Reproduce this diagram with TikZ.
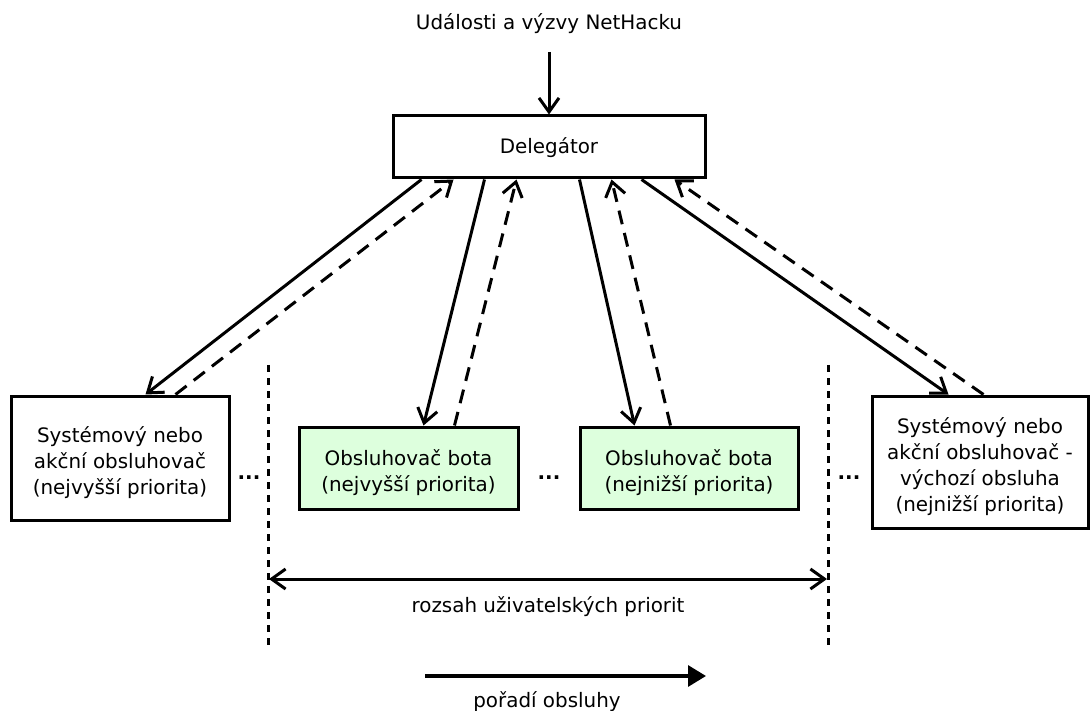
\documentclass[tikz,border=0pt]{standalone}
\usepackage{fontspec}
\setmainfont{DejaVu Sans}
\usetikzlibrary{arrows.meta,calc}
\definecolor{botgreen}{RGB}{221,255,221}
\begin{document}
\begin{tikzpicture}[x=1pt,y=-1pt,
  every node/.style={font=\fontsize{19.9}{26}\selectfont},
  box/.style={draw,line width=3pt,align=center,inner sep=0pt},
  botbox/.style={box,fill=botgreen},
  call/.style={line width=3pt,-{Straight Barb[length=14pt,width=20pt,line width=3pt]}},
  reply/.style={call,dash pattern=on 14pt off 9pt},
  limit/.style={line width=3pt,dash pattern=on 7pt off 6pt},
  span/.style={line width=3pt,{Straight Barb[length=14pt,width=20pt,line width=3pt]}-{Straight Barb[length=14pt,width=20pt,line width=3pt]}},
  order/.style={line width=3.2pt,-{Triangle[length=18pt,width=21pt]}},
  gap/.style={font=\fontsize{19.9}{26}\selectfont\bfseries}]
\useasboundingbox (0,0) rectangle (1090,711);

% title and the delegating node
\node (title) at (549,24) {Události a výzvy NetHacku};
\coordinate (in) at (549,52);
\node[box,minimum width=312pt,minimum height=62pt,text depth=3pt] (del) at (549,147) {Delegátor};

% handlers
\node[box,minimum width=218pt,minimum height=124pt] (sysh) at (120,458)
  {\rule{0pt}{26pt}Systémový nebo\\akční obsluhovač\\(nejvyšší priorita)};
\node[botbox,minimum width=219pt,minimum height=82pt] (both) at (408.5,468)
  {\rule{0pt}{26pt}Obsluhovač bota\\(nejvyšší priorita)};
\node[botbox,minimum width=218pt,minimum height=82pt] (botl) at (689,468)
  {\rule{0pt}{26pt}Obsluhovač bota\\(nejnižší priorita)};
\node[box,minimum width=216pt,minimum height=132pt] (sysl) at (980,462)
  {\rule{0pt}{26pt}Systémový nebo\\akční obsluhovač -\\výchozí obsluha\\(nejnižší priorita)};

% gaps between handlers
\node[gap] (g1) at (249,478) {...};
\node[gap] (g2) at (549,478) {...};
\node[gap] (g3) at (849,478) {...};

% incoming events
\draw[call] (in) -- (del.north);

% calls from the delegator and the replies
\draw[call]  ([xshift=30pt]del.south west)  -- ([xshift=136pt]sysh.north west);
\draw[reply] ([xshift=166pt]sysh.north west) -- ([xshift=62pt]del.south west);
\draw[call]  ([xshift=93pt]del.south west)  -- ([xshift=126pt]both.north west);
\draw[reply] ([xshift=157pt]both.north west) -- ([xshift=125pt]del.south west);
\draw[call]  ([xshift=188pt]del.south west) -- ([xshift=56pt]botl.north west);
\draw[reply] ([xshift=92pt]botl.north west) -- ([xshift=220pt]del.south west);
\draw[call]  ([xshift=250pt]del.south west) -- ([xshift=78pt]sysl.north west);
\draw[reply] ([xshift=113pt]sysl.north west) -- ([xshift=283pt]del.south west);

% range of user priorities
\coordinate (lt) at (268,365);
\coordinate (lb) at (268,645);
\coordinate (rt) at (828,365);
\coordinate (rb) at (828,645);
\draw[limit] (lt) -- (lb);
\draw[limit] (rt) -- (rb);
\coordinate (sa) at (269,579);
\coordinate (sb) at (827,579);
\draw[span] (sa) -- (sb);
\node (range) at (548,607) {rozsah uživatelských priorit};

% order of handling
\coordinate (oa) at (425,676);
\coordinate (ob) at (706,676);
\draw[order] (oa) -- (ob);
\node (ordl) at (547,702) {pořadí obsluhy};
\end{tikzpicture}
\end{document}
